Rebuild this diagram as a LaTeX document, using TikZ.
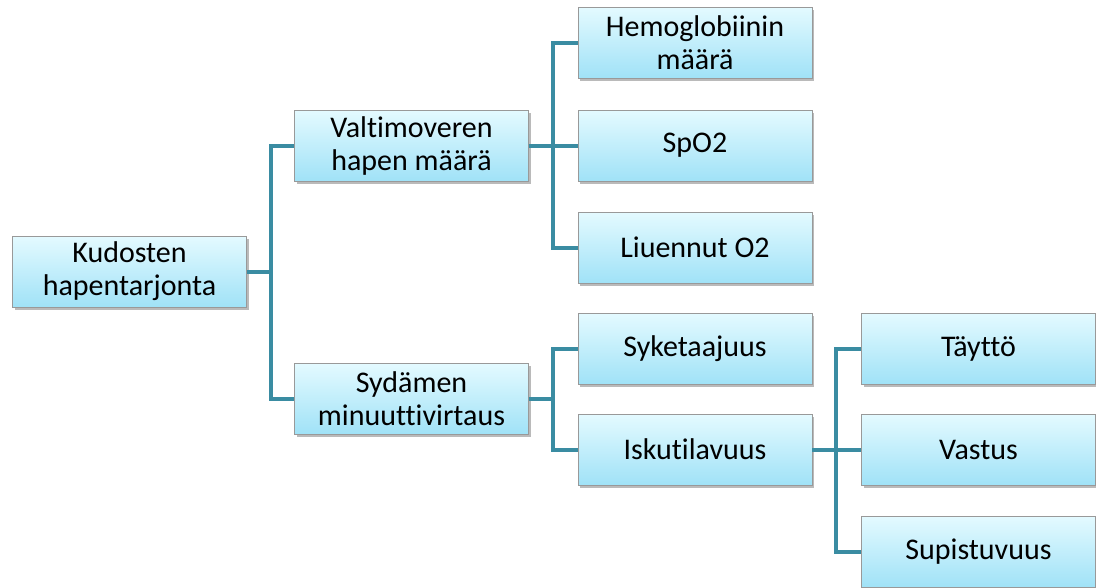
\documentclass[tikz,border=0pt]{standalone}
\usepackage{fontspec}
\setmainfont{Carlito}[Ligatures=NoCommon]
\usetikzlibrary{shadows}
\definecolor{linkteal}{RGB}{58,140,162}
\definecolor{boxtop}{RGB}{228,250,255}
\definecolor{boxbot}{RGB}{160,226,247}

\begin{document}
\begin{tikzpicture}[
            x=1pt, y=-1pt,
            item/.style={draw=black!40, line width=.8pt, top color=boxtop, bottom color=boxbot,
                minimum width=234pt, minimum height=71pt, inner sep=0pt, align=center,
                font=\fontsize{30}{33}\selectfont,
                drop shadow={shadow xshift=2pt, shadow yshift=-2.5pt, fill=black!45, opacity=.6}},
            link/.style={line width=4pt, draw=linkteal},
        ]
            \useasboundingbox (0,0) rectangle (1096,587);

            % root and its two branches
            \node[item] (kud) at (129.5,271.5) {Kudosten\\hapentarjonta};
            \node[item] (val) at (411.5,145.5) {Valtimoveren\\hapen määrä};
            \node[item] (syd) at (411.5,398.5) {Sydämen\\minuuttivirtaus};

            % third column
            \foreach \name/\y/\txt in {hem/42.5/{Hemoglobiinin\\määrä}, spo/145.5/SpO2, liu/247.5/Liuennut O2,
                                       syk/348.5/Syketaajuus, isk/449.5/Iskutilavuus}{
                \node[item] (\name) at (695,\y) {\txt};
            }

            % fourth column
            \foreach \name/\y/\txt in {tay/348.5/Täyttö, vas/449.5/Vastus, sup/551.5/Supistuvuus}{
                \node[item] (\name) at (978.5,\y) {\txt};
            }

            % elbow connectors, parent -> children
            \foreach \src/\kids in {kud/{val,syd}, val/{hem,spo,liu}, syd/{syk,isk}, isk/{tay,vas,sup}}{
                \foreach \kid in \kids{
                    \draw[link] (\src.east) -- ++(24,0) |- (\kid.west);
                }
            }
        \end{tikzpicture}
\end{document}
